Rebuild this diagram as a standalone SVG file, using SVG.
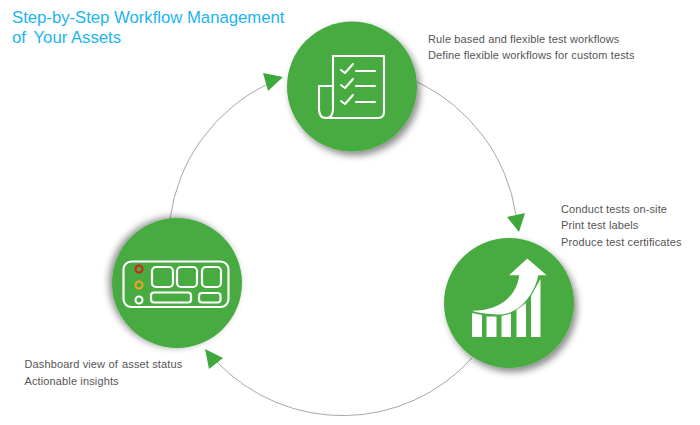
<svg xmlns="http://www.w3.org/2000/svg" width="700" height="425" viewBox="0 0 700 425">
<style>
.c{fill:#46ab43}
.t{font-family:"Liberation Sans",Arial,sans-serif;font-size:11px;fill:#555;letter-spacing:.13px}
.h{font-family:"Liberation Sans",Arial,sans-serif;font-size:16.7px;fill:#1ab5ee}
.i{fill:none;stroke:#fff;stroke-width:2.1;stroke-linecap:round;stroke-linejoin:round}
.b{fill:none;stroke:#fff;stroke-width:2.2}
.w{fill:#fff}
.l{fill:none;stroke:#a8a8a8;stroke-width:1}
.a{fill:#3fa83c}
</style>
<defs>
<filter id="s1" x="-30%" y="-30%" width="160%" height="160%"><feDropShadow dx="3" dy="4" stdDeviation="3.5" flood-color="#000" flood-opacity=".45"/></filter>
<filter id="s2" x="-30%" y="-30%" width="160%" height="160%"><feDropShadow dx="-3" dy="-1" stdDeviation="3.5" flood-color="#000" flood-opacity=".45"/></filter>
</defs>
<rect width="700" height="425" fill="#fff"/>
<g id="title"><text class="h" x="12" y="23">Step-by-Step Workflow Management</text><text class="h" x="12" y="43">of <tspan x="33.500">Your Assets</tspan></text></g>
<g id="connectors">
<path class="l" d="M170 219A175 175 0 0 1 268 84"/>
<path class="l" d="M417 82A176 176 0 0 1 516 215"/>
<path class="l" d="M472 358A174 174 0 0 1 217 362"/>
<polygon class="a" points="283,77 263,73 268,91"/>
<polygon class="a" points="519,232 507,217 525,213"/>
<polygon class="a" points="205,349 223,358 209,369"/>
</g>
<g id="node-workflow">
<circle class="c" cx="352" cy="86.500" r="65" filter="url(#s1)"/>
<path class="i" d="M333 105V56H384V112Q384 118 378 118H326"/>
<path class="i" d="M333 86H319V109Q319 118 326 118Q333 118 333 109V86"/>
<path class="i" d="M341 70L345 73L353 64M341 85L345 88L353 79M341 101L345 104L353 95"/>
<path class="i" d="M356 71H375M356 86H375M356 102H375"/>
</g>
<g id="node-chart">
<circle class="c" cx="509" cy="303" r="65" filter="url(#s1)"/>
<path class="w" d="M472 313L482 315V337H472ZM486.500 316.500H496.500V337H486.500ZM501.500 316L511 313.500V337H501.500ZM516.500 310L526 303V337H516.500ZM531 296L540.500 279V337H531Z"/>
<path class="w" d="M471.700 310.800C495 311 516 300 519.300 275.300H509L527.300 258.500L546.700 275.300H538.300C535 292 521 315 498 314.500C487 314 478 313 471.700 310.800Z"/>
</g>
<g id="node-dashboard">
<circle class="c" cx="177" cy="283" r="65" filter="url(#s2)"/>
<rect class="b" x="123.500" y="261.500" width="105" height="45.500" rx="8"/>
<rect class="b" x="152" y="267" width="21" height="20" rx="4"/>
<rect class="b" x="177" y="267" width="20" height="20" rx="4"/>
<rect class="b" x="202" y="267" width="19" height="20" rx="4"/>
<rect class="b" x="151" y="292.500" width="40" height="10" rx="3"/>
<rect class="b" x="199" y="293" width="21.500" height="9.500" rx="3"/>
<circle cx="139" cy="269" r="3.500" fill="none" stroke="#e01b1b" stroke-width="2"/>
<circle cx="139" cy="285" r="3.500" fill="none" stroke="#f2a51e" stroke-width="2"/>
<circle cx="139" cy="300" r="3.500" fill="none" stroke="#fff" stroke-width="2"/>
</g>
<g id="text-workflow"><text class="t" x="428" y="43">Rule based and flexible test workflows</text><text class="t" x="428" y="59">Define flexible workflows for custom tests</text></g>
<g id="text-tests"><text class="t" x="561" y="213">Conduct tests on-site</text><text class="t" x="561" y="229">Print test labels</text><text class="t" x="561" y="246">Produce test certificates</text></g>
<g id="text-dashboard"><text class="t" x="24.500" y="368">Dashboard view of <tspan dx="1">asset status</tspan></text><text class="t" x="24.500" y="385">Actionable insights</text></g>
</svg>
